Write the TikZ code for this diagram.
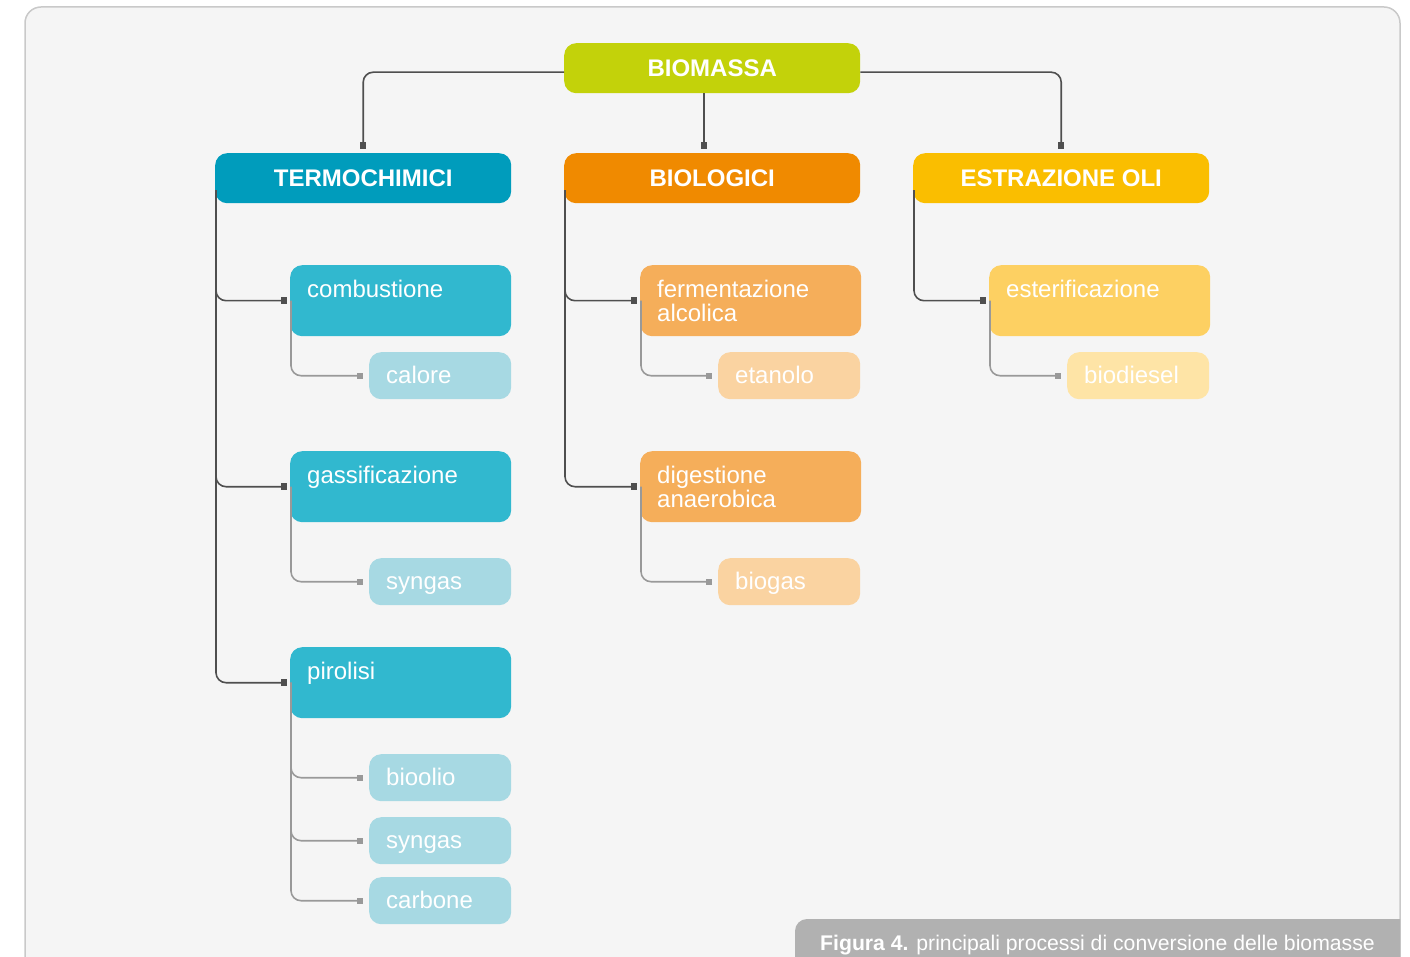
\documentclass[tikz,border=0pt]{standalone}
\usepackage{fontspec}
\setmainfont{Liberation Sans}
\usetikzlibrary{arrows.meta,calc}
\definecolor{bgc}{HTML}{F5F5F5}
\definecolor{bgborder}{HTML}{C9C9C9}
\definecolor{cBio}{HTML}{C3D20A}
\definecolor{cTermo}{HTML}{009CBC}
\definecolor{cBiol}{HTML}{F08A00}
\definecolor{cEstr}{HTML}{FABE00}
\definecolor{cTermoM}{HTML}{31B8CF}
\definecolor{cTermoL}{HTML}{A7D9E3}
\definecolor{cBiolM}{HTML}{F5AE5A}
\definecolor{cBiolL}{HTML}{FAD3A1}
\definecolor{cEstrM}{HTML}{FDD062}
\definecolor{cEstrL}{HTML}{FEE4A6}
\definecolor{capc}{HTML}{B1B1B1}
\definecolor{lnd}{HTML}{4F4F4F}
\definecolor{lnl}{HTML}{999999}
\begin{document}
\begin{tikzpicture}[x=1pt,y=-1pt,
  topbox/.style={rounded corners=12pt, anchor=north west, minimum width=296pt, minimum height=50pt,
    inner sep=0pt, text=white, font=\fontsize{24}{24}\selectfont\bfseries, text height=17pt, text depth=0pt},
  midbox/.style={rounded corners=12pt, anchor=north west, inner xsep=17pt, inner ysep=0pt,
    text width=187pt, text height=32pt, text depth=39pt, align=left, text=white,
    font=\fontsize{24}{24}\selectfont},
  lightbox/.style={rounded corners=12pt, anchor=north west, inner xsep=17pt, inner ysep=0pt,
    text width=108pt, text height=31pt, text depth=16pt, align=left, text=white,
    font=\fontsize{24}{24}\selectfont},
  dk/.style={draw=lnd, line width=1.6pt, rounded corners=10pt, -{Square[length=6.5pt,width=6.5pt]}},
  lt/.style={draw=lnl, line width=1.6pt, rounded corners=10pt, -{Square[length=6pt,width=6pt]}}
]
\useasboundingbox (0,0) rectangle (1410,957);
\clip (0,0) rectangle (1410,957);
% background panel
\draw[fill=bgc, draw=bgborder, line width=1.5pt, rounded corners=16pt] (25,7) rectangle (1400,990);
% caption
\fill[capc] (795,970) [rounded corners=12pt] -- (795,919) [sharp corners] -- (1400,919) -- (1400,970) -- cycle;
\node[anchor=base west, text=white, font=\fontsize{21.2}{21.2}\selectfont, inner sep=0pt] (cap) at (820,950)
  {\textbf{Figura 4.} principali processi di conversione delle biomasse};

% top level
\node[topbox, fill=cBio] (bio) at (564,43) {BIOMASSA};
\node[topbox, fill=cTermo] (termo) at (215,153) {TERMOCHIMICI};
\node[topbox, fill=cBiol] (biol) at (564,153) {BIOLOGICI};
\node[topbox, fill=cEstr] (estr) at (913,153) {ESTRAZIONE OLI};

% termochimici
\node[midbox, fill=cTermoM] (comb) at (290,265) {combustione};
\node[lightbox, fill=cTermoL] (calore) at (369,352) {calore};
\node[midbox, fill=cTermoM] (gass) at (290,451) {gassificazione};
\node[lightbox, fill=cTermoL] (syn1) at (369,558) {syngas};
\node[midbox, fill=cTermoM] (piro) at (290,647) {pirolisi};
\node[lightbox, fill=cTermoL] (bioolio) at (369,754) {bioolio};
\node[lightbox, fill=cTermoL] (syn2) at (369,817) {syngas};
\node[lightbox, fill=cTermoL] (carb) at (369,877) {carbone};

% biologici
\node[midbox, fill=cBiolM] (ferm) at (640,265) {fermentazione\\alcolica};
\node[lightbox, fill=cBiolL] (etan) at (718,352) {etanolo};
\node[midbox, fill=cBiolM] (dige) at (640,451) {digestione\\anaerobica};
\node[lightbox, fill=cBiolL] (biogas) at (718,558) {biogas};

% estrazione oli
\node[midbox, fill=cEstrM] (ester) at (989,265) {esterificazione};
\node[lightbox, fill=cEstrL] (biod) at (1067,352) {biodiesel};

% connectors from BIOMASSA
\draw[dk] ($(bio.west)+(0,4)$) -| ($(termo.north)+(0,-4)$);
\draw[dk] ($(bio.south)+(-8,0)$) -- ($(biol.north)+(-8,-4)$);
\draw[dk] ($(bio.east)+(0,4)$) -| ($(estr.north)+(0,-4)$);

% termochimici trunk
\draw[dk] ($(termo.west)+(1,12)$) |- ($(comb.west)+(-3,0)$);
\draw[dk] ($(termo.west)+(1,12)$) |- ($(gass.west)+(-3,0)$);
\draw[dk] ($(termo.west)+(1,12)$) |- ($(piro.west)+(-3,0)$);
\draw[lt] ($(comb.west)+(1,0)$) |- ($(calore.west)+(-6,0)$);
\draw[lt] ($(gass.west)+(1,0)$) |- ($(syn1.west)+(-6,0)$);
\draw[lt] ($(piro.west)+(1,0)$) |- ($(bioolio.west)+(-6,0)$);
\draw[lt] ($(piro.west)+(1,0)$) |- ($(syn2.west)+(-6,0)$);
\draw[lt] ($(piro.west)+(1,0)$) |- ($(carb.west)+(-6,0)$);

% biologici trunk
\draw[dk] ($(biol.west)+(1,12)$) |- ($(ferm.west)+(-3,0)$);
\draw[dk] ($(biol.west)+(1,12)$) |- ($(dige.west)+(-3,0)$);
\draw[lt] ($(ferm.west)+(1,0)$) |- ($(etan.west)+(-6,0)$);
\draw[lt] ($(dige.west)+(1,0)$) |- ($(biogas.west)+(-6,0)$);

% estrazione trunk
\draw[dk] ($(estr.west)+(1,12)$) |- ($(ester.west)+(-3,0)$);
\draw[lt] ($(ester.west)+(1,0)$) |- ($(biod.west)+(-6,0)$);
\end{tikzpicture}
\end{document}
